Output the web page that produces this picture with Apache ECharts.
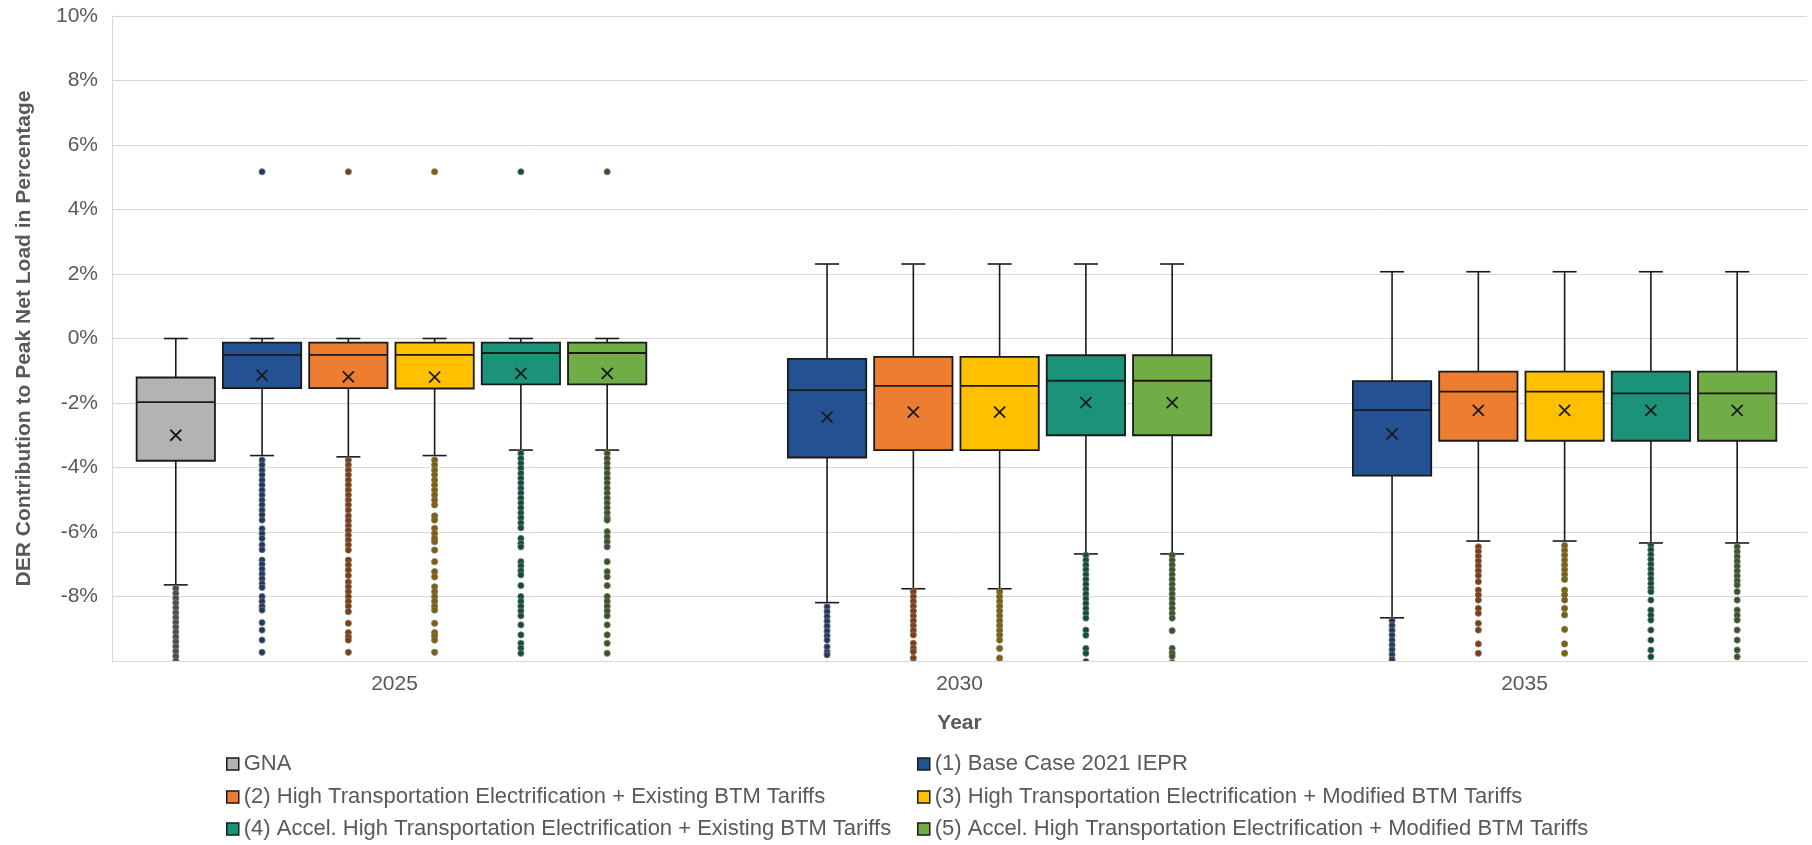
<!DOCTYPE html>
<html>
<head>
<meta charset="utf-8">
<title>DER Contribution to Peak Net Load</title>
<script src="https://cdn.jsdelivr.net/npm/echarts@6/dist/echarts.min.js"></script>
<style>
  html, body { margin: 0; padding: 0; background: #ffffff; }
  #chart { width: 1812px; height: 845px; }
</style>
</head>
<body>
<div id="chart"></div>
<script>
// ---- Data (values in percent) ----
const years = ['2025', '2030', '2035'];
const yTicks = [-10, -8, -6, -4, -2, 0, 2, 4, 6, 8, 10];

const scenarioNames = [
  'GNA',
  '(1) Base Case 2021 IEPR',
  '(2) High Transportation Electrification + Existing BTM Tariffs',
  '(3) High Transportation Electrification + Modified BTM Tariffs',
  '(4) Accel. High Transportation Electrification + Existing BTM Tariffs',
  '(5) Accel. High Transportation Electrification + Modified BTM Tariffs'
];

// per year: [lower whisker, Q1, median, Q3, upper whisker]; null = no data that year
const gnaStats = [[-7.64, -3.79, -1.97, -1.21, 0.0], null, null];
const gnaMeans = [-3.0, null, null];
const gnaOutliers = [
  [-7.75, -7.9, -8.05, -8.2, -8.35, -8.5, -8.65, -8.8, -8.95, -9.1, -9.25, -9.4, -9.55, -9.7, -9.85, -10.0],
  [], []
];

const baseStats = [
  [-3.63, -1.54, -0.51, -0.13, 0.0],
  [-8.19, -3.69, -1.60, -0.63, 2.31],
  [-8.66, -4.25, -2.22, -1.32, 2.07]
];
const baseMeans = [-1.14, -2.44, -2.96];
const baseOutliers = [
  [5.17, -3.77, -3.92, -4.08, -4.23, -4.39, -4.54, -4.70, -4.85, -5.01, -5.16, -5.32, -5.47, -5.63,
   -5.9, -6.05, -6.2, -6.4, -6.55, -6.87, -7.0, -7.15, -7.3, -7.45, -7.6, -7.72,
   -8.0, -8.15, -8.3, -8.42, -8.81, -9.04, -9.35, -9.73],
  [-8.32, -8.47, -8.62, -8.77, -8.92, -9.07, -9.22, -9.35, -9.56, -9.72, -9.81, -10.1],
  [-8.75, -8.9, -9.05, -9.2, -9.35, -9.5, -9.65, -9.8, -9.95, -10.1]
];

const hteExistStats = [
  [-3.67, -1.54, -0.51, -0.13, 0.0],
  [-7.76, -3.46, -1.47, -0.57, 2.31],
  [-6.28, -3.17, -1.65, -1.03, 2.07]
];
const hteExistMeans = [-1.19, -2.28, -2.23];
const hteExistOutliers = [
  [5.17, -3.77, -3.92, -4.08, -4.23, -4.39, -4.54, -4.70, -4.85, -5.01, -5.16, -5.32,
   -5.5, -5.65, -5.8, -5.95, -6.1, -6.25, -6.4, -6.56, -6.87, -7.02, -7.18, -7.35,
   -7.55, -7.7, -7.85, -8.0, -8.15, -8.3, -8.47, -8.83, -9.12, -9.25, -9.35, -9.73],
  [-7.85, -8.0, -8.15, -8.3, -8.45, -8.6, -8.75, -8.9, -9.05, -9.19, -9.45, -9.6, -9.71, -9.91, -10.05],
  [-6.46, -6.6, -6.75, -6.9, -7.05, -7.2, -7.35, -7.54, -7.8, -7.95, -8.11, -8.37, -8.52,
   -8.83, -9.04, -9.47, -9.76]
];

const hteModStats = [
  [-3.63, -1.55, -0.51, -0.13, 0.0],
  [-7.76, -3.46, -1.47, -0.57, 2.31],
  [-6.28, -3.17, -1.65, -1.03, 2.07]
];
const hteModMeans = [-1.2, -2.28, -2.23];
const hteModOutliers = [
  [5.17, -3.77, -3.92, -4.08, -4.23, -4.39, -4.54, -4.70, -4.85, -5.01, -5.16, -5.5, -5.63,
   -5.89, -6.05, -6.2, -6.3, -6.56, -6.92, -7.23, -7.39, -7.7, -7.85, -8.0, -8.15, -8.3, -8.42,
   -8.83, -9.12, -9.22, -9.35, -9.73],
  [-7.85, -8.0, -8.15, -8.3, -8.45, -8.6, -8.75, -8.9, -9.05, -9.2, -9.35, -9.61, -9.91, -10.05],
  [-6.42, -6.57, -6.72, -6.87, -7.02, -7.17, -7.32, -7.47, -7.8, -7.95, -8.11, -8.37, -8.57,
   -9.02, -9.47, -9.76]
];

const accelExistStats = [
  [-3.46, -1.42, -0.45, -0.13, 0.0],
  [-6.68, -3.0, -1.31, -0.52, 2.31],
  [-6.34, -3.17, -1.70, -1.03, 2.07]
];
const accelExistMeans = [-1.08, -1.99, -2.23];
const accelExistOutliers = [
  [5.17, -3.56, -3.72, -3.87, -4.02, -4.18, -4.33, -4.48, -4.64, -4.79, -4.95, -5.1, -5.25,
   -5.41, -5.56, -5.72, -5.87, -6.2, -6.35, -6.46, -6.92, -7.05, -7.2, -7.33, -7.66,
   -8.0, -8.15, -8.3, -8.45, -8.6, -8.88, -9.19, -9.45, -9.6, -9.76],
  [-6.72, -6.87, -7.02, -7.17, -7.32, -7.47, -7.62, -7.77, -7.92, -8.07, -8.22, -8.37, -8.52,
   -8.67, -9.04, -9.2, -9.61, -9.76, -10.02],
  [-6.4, -6.55, -6.7, -6.85, -7.0, -7.15, -7.3, -7.45, -7.6, -7.75, -7.85, -8.11, -8.42,
   -8.58, -8.73, -9.04, -9.35, -9.66, -9.87]
];

const accelModStats = [
  [-3.46, -1.42, -0.45, -0.13, 0.0],
  [-6.68, -3.0, -1.31, -0.52, 2.31],
  [-6.34, -3.17, -1.70, -1.03, 2.07]
];
const accelModMeans = [-1.08, -1.99, -2.23];
const accelModOutliers = [
  [5.17, -3.56, -3.72, -3.87, -4.02, -4.18, -4.33, -4.48, -4.64, -4.79, -4.95, -5.1, -5.25,
   -5.41, -5.56, -5.63, -5.99, -6.15, -6.3, -6.46, -6.92, -7.23, -7.39, -7.66,
   -8.0, -8.15, -8.3, -8.45, -8.6, -8.88, -9.19, -9.45, -9.76],
  [-6.72, -6.87, -7.02, -7.17, -7.32, -7.47, -7.62, -7.77, -7.92, -8.07, -8.22, -8.37, -8.52,
   -8.67, -9.06, -9.61, -9.75, -9.85, -10.05],
  [-6.46, -6.61, -6.76, -6.91, -7.06, -7.21, -7.36, -7.51, -7.64, -7.85, -8.11, -8.42,
   -8.58, -8.73, -9.04, -9.35, -9.66, -9.87]
];

// ---- Styling ----
const boxColors = ['#B3B3B3', '#245192', '#ED7D31', '#FFC000', '#1B9378', '#70AD47'];
const dotColors = ['#4d4d4d', '#1F3864', '#843C0C', '#806000', '#0E4D40', '#375623'];
const FONT = '"Liberation Sans", Arial, Helvetica, sans-serif';
const TEXT_COLOR = '#595959';
const FONT_SIZE = 21;
const LEGEND_FONT_SIZE = 22;

// fractions of the category band width
const SLOT_FRAC = 0.1527;
const BOX_FRAC = 0.1386;
const CAP_FRAC = 0.0425;
const SLOT_COUNT = 6;

const scenarios = [
  { stats: gnaStats, means: gnaMeans, outliers: gnaOutliers },
  { stats: baseStats, means: baseMeans, outliers: baseOutliers },
  { stats: hteExistStats, means: hteExistMeans, outliers: hteExistOutliers },
  { stats: hteModStats, means: hteModMeans, outliers: hteModOutliers },
  { stats: accelExistStats, means: accelExistMeans, outliers: accelExistOutliers },
  { stats: accelModStats, means: accelModMeans, outliers: accelModOutliers }
];

function makeRenderer(slot) {
  const sc = scenarios[slot];
  return function (params, api) {
    const yi = api.value(0);
    const band = api.size([1, 0])[0];
    const cx = api.coord([yi, 0])[0] + (slot - (SLOT_COUNT - 1) / 2 - 0.035) * band * SLOT_FRAC;
    const boxW = band * BOX_FRAC;
    const capW = band * CAP_FRAC;
    const py = (v) => api.coord([yi, v])[1];
    const yLow = py(api.value(1));
    const yQ1 = py(api.value(2));
    const yMed = py(api.value(3));
    const yQ3 = py(api.value(4));
    const yHigh = py(api.value(5));
    const yMean = py(api.value(6));
    const line = { stroke: '#1a1a1a', lineWidth: 1.6 };
    const children = [
      { type: 'line', shape: { x1: cx, y1: yQ1, x2: cx, y2: yLow }, style: line },
      { type: 'line', shape: { x1: cx - capW / 2, y1: yLow, x2: cx + capW / 2, y2: yLow }, style: line },
      { type: 'line', shape: { x1: cx, y1: yQ3, x2: cx, y2: yHigh }, style: line },
      { type: 'line', shape: { x1: cx - capW / 2, y1: yHigh, x2: cx + capW / 2, y2: yHigh }, style: line },
      {
        type: 'rect',
        shape: { x: cx - boxW / 2, y: yQ3, width: boxW, height: yQ1 - yQ3 },
        style: { fill: boxColors[slot], stroke: '#1a1a1a', lineWidth: 1.8 }
      },
      { type: 'line', shape: { x1: cx - boxW / 2, y1: yMed, x2: cx + boxW / 2, y2: yMed }, style: { stroke: '#1a1a1a', lineWidth: 1.8 } },
      { type: 'line', shape: { x1: cx - 5.5, y1: yMean - 5.5, x2: cx + 5.5, y2: yMean + 5.5 }, style: { stroke: '#1a1a1a', lineWidth: 1.8 } },
      { type: 'line', shape: { x1: cx - 5.5, y1: yMean + 5.5, x2: cx + 5.5, y2: yMean - 5.5 }, style: { stroke: '#1a1a1a', lineWidth: 1.8 } }
    ];
    sc.outliers[yi].forEach(function (v) {
      children.push({
        type: 'circle',
        shape: { cx: cx, cy: py(v), r: 3.1 },
        style: { fill: dotColors[slot], stroke: 'rgba(120,120,120,0.85)', lineWidth: 1 }
      });
    });
    return { type: 'group', children: children };
  };
}

const series = scenarios.map(function (sc, slot) {
  const data = [];
  sc.stats.forEach(function (s, yi) {
    if (s) data.push([yi].concat(s, [sc.means[yi]]));
  });
  return {
    type: 'custom',
    name: scenarioNames[slot],
    clip: true,
    renderItem: makeRenderer(slot),
    itemStyle: { color: boxColors[slot], borderColor: '#1a1a1a', borderWidth: 1.5 },
    encode: { x: 0, y: [1, 2, 3, 4, 5, 6] },
    data: data
  };
});

// legend: two columns, three rows
const legendColumns = [226, 917];
const legendRows = [764, 797, 829];
const legendOrder = [[0, 2, 4], [1, 3, 5]];

const legends = [];
legendOrder.forEach(function (col, ci) {
  col.forEach(function (idx, ri) {
    legends.push({
      left: legendColumns[ci],
      top: legendRows[ri] - 11,
      padding: 0,
      itemWidth: 12,
      itemHeight: 12,
      selectedMode: false,
      textStyle: { fontFamily: FONT, fontSize: LEGEND_FONT_SIZE, lineHeight: 22, color: TEXT_COLOR },
      data: [{
        name: scenarioNames[idx],
        icon: 'rect',
        itemStyle: { color: boxColors[idx], borderColor: '#1a1a1a', borderWidth: 1.5 }
      }]
    });
  });
});

const chart = echarts.init(document.getElementById('chart'), null, { renderer: 'canvas' });
chart.setOption({
  backgroundColor: '#ffffff',
  animation: false,
  grid: { left: 112, right: 5, top: 16, bottom: 184 },
  legend: legends,
  xAxis: {
    type: 'category',
    data: years,
    name: 'Year',
    nameLocation: 'middle',
    nameGap: 52,
    nameTextStyle: { fontFamily: FONT, fontSize: FONT_SIZE, fontWeight: 'bold', color: TEXT_COLOR },
    axisLine: { show: true, lineStyle: { color: '#d9d9d9', width: 1 } },
    axisTick: { show: false },
    axisLabel: { fontFamily: FONT, fontSize: FONT_SIZE, color: TEXT_COLOR, margin: 13 },
    splitLine: { show: false }
  },
  yAxis: {
    type: 'value',
    min: yTicks[0],
    max: yTicks[yTicks.length - 1],
    interval: 2,
    name: 'DER Contribution to Peak Net Load in Percentage',
    nameLocation: 'middle',
    nameGap: 77,
    nameTextStyle: { fontFamily: FONT, fontSize: FONT_SIZE, fontWeight: 'bold', color: TEXT_COLOR },
    axisLine: { show: true, lineStyle: { color: '#d9d9d9', width: 1 } },
    axisTick: { show: false },
    axisLabel: {
      fontFamily: FONT, fontSize: FONT_SIZE, color: TEXT_COLOR, margin: 14,
      formatter: function (v) { return v === yTicks[0] ? '' : v + '%'; }
    },
    splitLine: { show: true, lineStyle: { color: '#d9d9d9', width: 1 } }
  },
  series: series
});
</script>
</body>
</html>
